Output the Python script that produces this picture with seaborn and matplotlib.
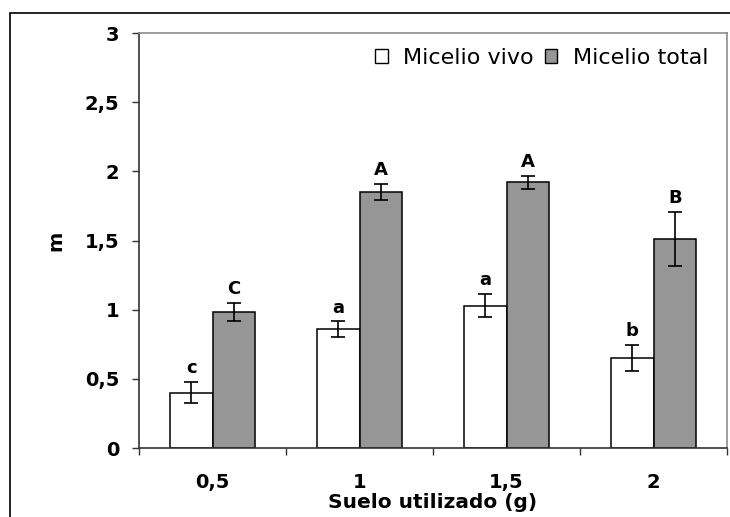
import matplotlib
matplotlib.use("Agg")
import matplotlib.pyplot as plt
from matplotlib.patches import Patch, Rectangle
import pandas as pd
import seaborn as sns

# Soil amounts (g) and mycelium length per series
categories = ["0,5", "1", "1,5", "2"]
series = ["Micelio vivo", "Micelio total"]
vivo = [0.40, 0.86, 1.03, 0.65]
vivo_err = [0.075, 0.055, 0.085, 0.095]
vivo_letters = ["c", "a", "a", "b"]
total = [0.985, 1.85, 1.92, 1.51]
total_err = [0.065, 0.06, 0.045, 0.195]
total_letters = ["C", "A", "A", "B"]
yticks = [0, 0.5, 1, 1.5, 2, 2.5, 3]
ytick_labels = ["0", "0,5", "1", "1,5", "2", "2,5", "3"]
colors = ["#ffffff", "#969696"]

df = pd.DataFrame({
    "suelo": categories * 2,
    "m": vivo + total,
    "serie": [series[0]] * 4 + [series[1]] * 4,
})

sns.set_style("white")
plt.rcParams["font.family"] = ["DejaVu Sans"]
plt.rcParams.update({"text.color": "black", "axes.labelcolor": "black",
                     "xtick.color": "black", "ytick.color": "black"})

fig = plt.figure(figsize=(7.3, 5.17), dpi=100)
ax = fig.add_axes([139 / 730, 1 - 448 / 517, 588 / 730, 415 / 517])

sns.barplot(data=df, x="suelo", y="m", hue="serie", order=categories,
            hue_order=series, palette=colors, width=0.58, gap=0,
            edgecolor="black", linewidth=1.1, errorbar=None, legend=False,
            saturation=1, ax=ax)

for cont, errs, letters in zip(ax.containers, [vivo_err, total_err],
                               [vivo_letters, total_letters]):
    for bar, e, lab in zip(cont, errs, letters):
        cx = bar.get_x() + bar.get_width() / 2
        h = bar.get_height()
        ax.errorbar(cx, h, yerr=e, fmt="none", ecolor="black",
                    elinewidth=1.2, capsize=5, capthick=1.2, zorder=5)
        ax.annotate(lab, (cx, h + e), xytext=(0, 3.5), textcoords="offset points",
                    ha="center", va="bottom", fontsize=13, fontweight="bold")

ax.set_xlim(-0.5, 3.5)
ax.set_ylim(0, 3)
ax.set_yticks(yticks)
ax.set_yticklabels(ytick_labels)
ax.set_xticks([-0.5, 0.5, 1.5, 2.5, 3.5])
ax.set_xticklabels([])
ax.set_xticks(range(len(categories)), minor=True)
ax.set_xticklabels(categories, minor=True)
ax.tick_params(axis="x", which="major", direction="out", length=5,
               width=1, color="#333333", bottom=True)
ax.tick_params(axis="x", which="minor", length=0, pad=18, labelsize=14)
ax.tick_params(axis="y", direction="out", length=5, width=1,
               color="#333333", left=True, pad=9, labelsize=14)
for lab in ax.get_xticklabels(minor=True) + ax.get_yticklabels():
    lab.set_fontweight("bold")

ax.set_xlabel("Suelo utilizado (g)", fontsize=14.5, fontweight="bold")
ax.set_ylabel("m", fontsize=14, fontweight="bold")
ax.xaxis.set_label_coords(0.5, -0.108)
ax.yaxis.set_label_coords(-0.125, 0.5)

for side in ["left", "bottom"]:
    ax.spines[side].set_color("#333333")
    ax.spines[side].set_linewidth(1.2)
for side in ["top", "right"]:
    ax.spines[side].set_visible(True)
    ax.spines[side].set_color("#8c8c8c")
    ax.spines[side].set_linewidth(1.2)

handles = [Patch(facecolor=c, edgecolor="black", linewidth=1) for c in colors]
ax.legend(handles, series, ncol=2, frameon=False, loc="center right",
          bbox_to_anchor=(0.968, 0.94), borderpad=0, borderaxespad=0,
          handlelength=0.55, handleheight=0.55, handletextpad=0.7,
          columnspacing=0.5, prop={"size": 16})

# outer chart frame
fig.patches.append(Rectangle((10 / 730, -0.1), 1.2, 1.1 - 13 / 517,
                             transform=fig.transFigure, fill=False,
                             edgecolor="black", linewidth=1.2))

fig.savefig("out.png", dpi=100)
